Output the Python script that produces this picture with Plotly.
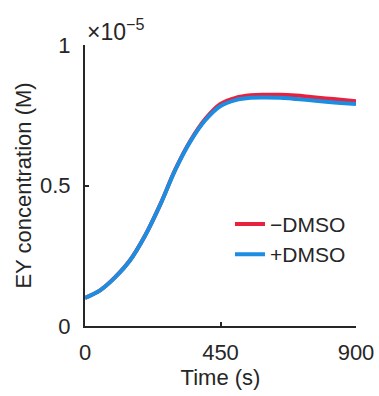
import plotly.graph_objects as go

# Time points (s)
time_s = [0, 50, 100, 150, 200, 250, 300, 350, 400, 450,
          500, 550, 600, 650, 700, 750, 800, 850, 900]

# EY concentration, in units of 1e-5 M
ey_minus_dmso = [0.100, 0.127, 0.174, 0.235, 0.323, 0.433, 0.557, 0.659, 0.737, 0.790,
                 0.812, 0.821, 0.823, 0.823, 0.820, 0.815, 0.810, 0.805, 0.800]
ey_plus_dmso = [0.100, 0.127, 0.173, 0.234, 0.322, 0.432, 0.556, 0.657, 0.733, 0.783,
                0.804, 0.812, 0.813, 0.812, 0.808, 0.803, 0.798, 0.794, 0.790]

series_names = ["\u2212DMSO", "+DMSO"]
series_colors = ["#E8213F", "#1C8DE0"]

x_ticks = [0, 450, 900]
y_ticks = [0, 0.5, 1]
y_tick_text = ["0", "0.5", "1"]

FONT = "Liberation Sans, Arial, sans-serif"
INK = "#262626"

fig = go.Figure()
for name, vals, color in zip(series_names, [ey_minus_dmso, ey_plus_dmso], series_colors):
    fig.add_trace(go.Scatter(
        x=time_s, y=vals, name=name, mode="lines",
        line=dict(color=color, width=4, shape="spline", smoothing=1.0),
    ))

fig.update_layout(
    width=379, height=396,
    margin=dict(l=85, r=23, t=45, b=70),
    paper_bgcolor="white", plot_bgcolor="white",
    font=dict(family=FONT, size=22, color=INK),
    showlegend=True,
    legend=dict(
        x=0.535, y=0.435, xanchor="left", yanchor="top",
        bgcolor="rgba(0,0,0,0)", font=dict(size=21, color=INK),
        itemwidth=30, tracegroupgap=0,
    ),
    xaxis=dict(
        range=[0, 900], tickvals=x_ticks, ticks="inside", ticklen=4, tickwidth=1.5,
        tickcolor=INK, showline=True, linecolor=INK, linewidth=2, showgrid=False,
        zeroline=False, ticklabelstandoff=6, automargin=False,
        title=dict(text="Time (s)", standoff=4, font=dict(size=22)),
    ),
    yaxis=dict(
        range=[0, 1], tickvals=y_ticks, ticktext=y_tick_text, ticks="inside", ticklen=4,
        tickwidth=1.5, tickcolor=INK, showline=True, linecolor=INK, linewidth=2,
        showgrid=False, zeroline=False, ticklabelstandoff=8, automargin=False,
        title=dict(text="EY concentration (M)", standoff=2, font=dict(size=22)),
    ),
)

# Exponent multiplier for the y axis
fig.add_annotation(
    x=0, y=1, xref="paper", yref="paper", xanchor="left", yanchor="bottom",
    xshift=0, yshift=-2, showarrow=False,
    text="\u00d710<sup>\u22125</sup>", font=dict(size=23, color=INK, family=FONT),
)

fig.write_html("out.html")
